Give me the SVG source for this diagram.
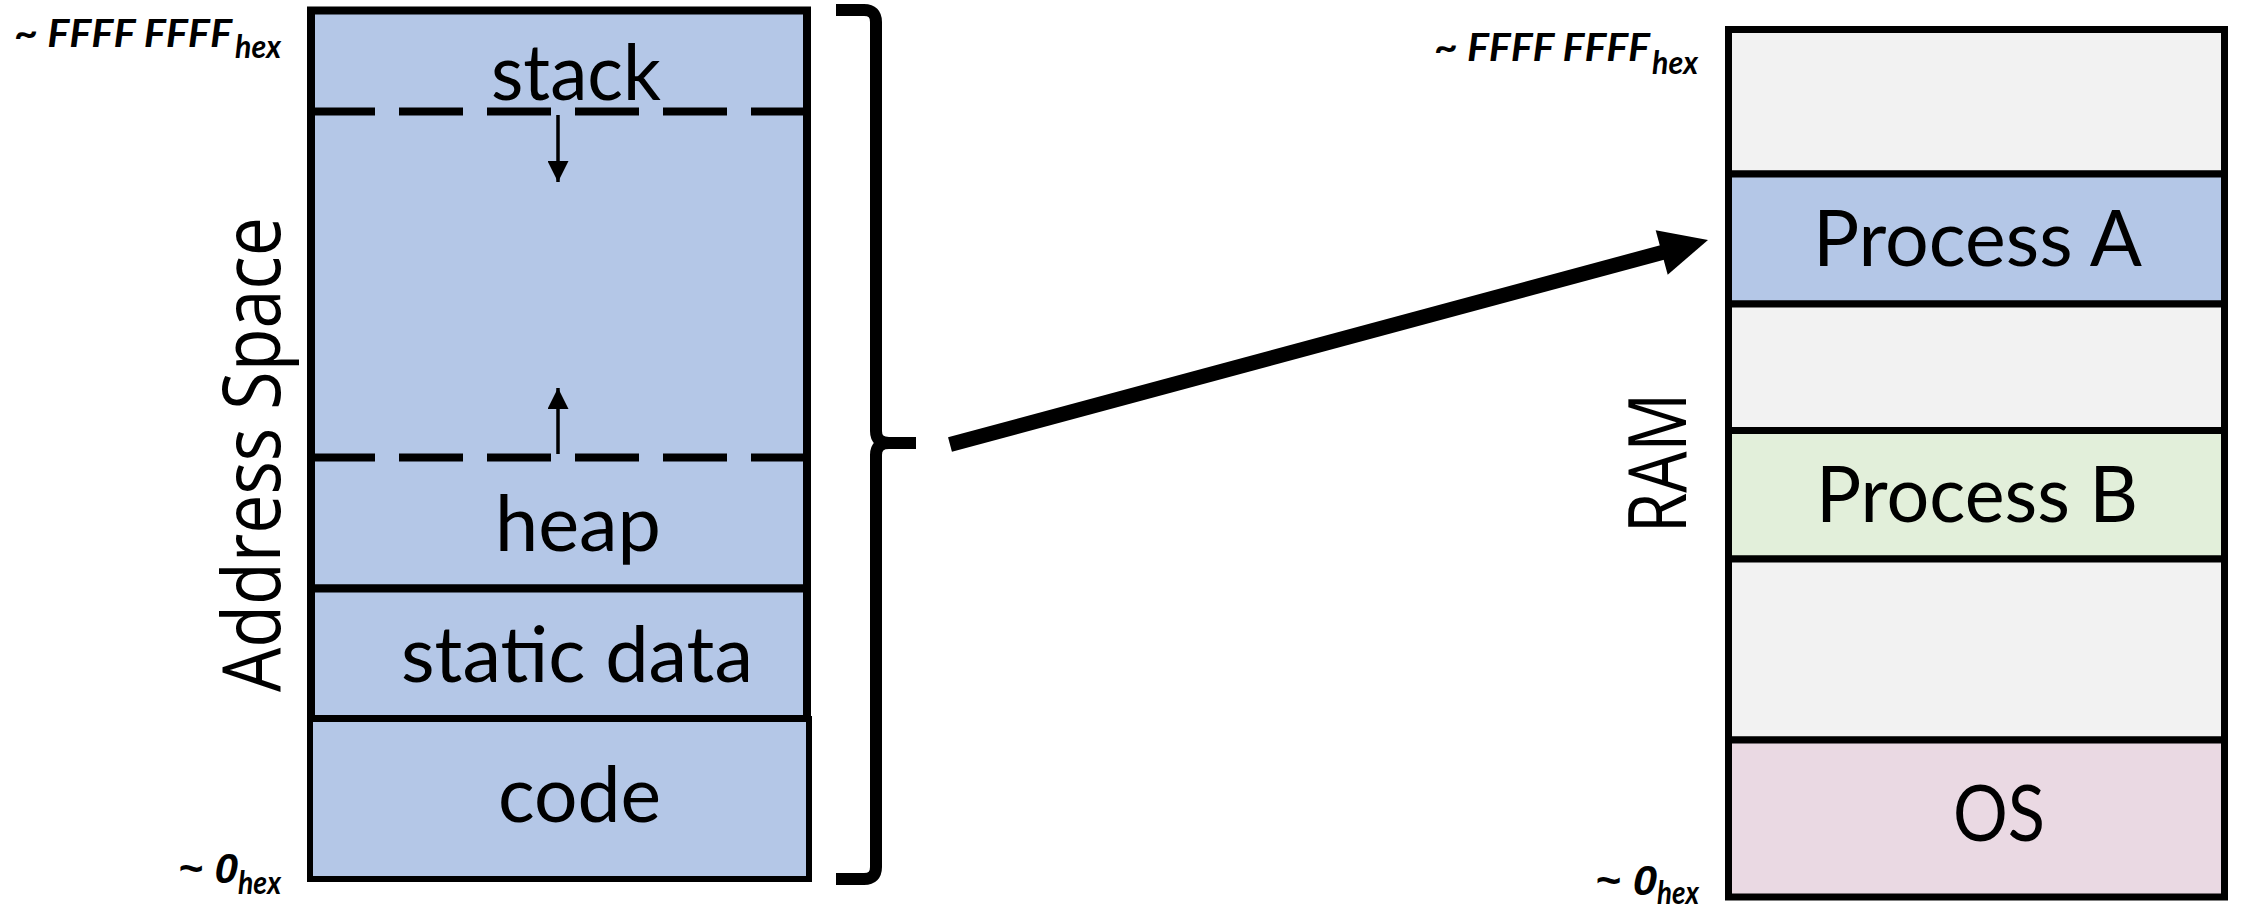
<svg xmlns="http://www.w3.org/2000/svg" width="2242" height="911" viewBox="0 0 2242 911">
  <style>
    .seg { stroke: #000; stroke-width: 8; }
    .ram { stroke: #000; stroke-width: 7; }
    .blue { fill: #B4C7E7; }
    .free { fill: #F2F2F2; }
    .green { fill: #E2EFDA; }
    .pink { fill: #EAD9E3; }
    .lbl { font-family: Lato, "Open Sans", sans-serif; font-size: 78px; fill: #000; }
    .side { font-family: "Open Sans", "DejaVu Sans", sans-serif; font-size: 80px; fill: #000; }
    .addr { font-family: Lato, "Liberation Sans", sans-serif; font-weight: bold; font-style: italic; fill: #000; }
    .zero { font-family: "Liberation Sans", Arial, sans-serif; font-size: 42px; }
    .big { font-size: 38px; }
    .sub { font-size: 32px; }
    .dash { stroke: #000; stroke-width: 8; stroke-dasharray: 64 24; fill: none; }
    .thin { stroke: #000; stroke-width: 3.5; fill: none; }
  </style>
  <defs>
    <marker id="tri" viewBox="0 0 10 10" refX="10" refY="5" markerWidth="6" markerHeight="6" markerUnits="strokeWidth" orient="auto">
      <path d="M0,0 L10,5 L0,10 z" fill="#000"/>
    </marker>
  </defs>

  <rect width="2242" height="911" fill="#fff"/>

  <!-- process address space -->
  <g id="address-space">
    <g id="seg-stack-heap">
      <rect class="seg blue" x="311" y="10.5" width="496" height="578"/>
      <line class="dash" x1="311" y1="111.5" x2="807" y2="111.5"/>
      <line class="dash" x1="311" y1="457.5" x2="807" y2="457.5"/>
      <text class="lbl" x="491" y="100" textLength="170" lengthAdjust="spacingAndGlyphs">stack</text>
      <text class="lbl" x="495" y="551" textLength="166" lengthAdjust="spacingAndGlyphs">heap</text>
      <line class="thin" x1="558" y1="115" x2="558" y2="182" marker-end="url(#tri)"/>
      <line class="thin" x1="558" y1="454" x2="558" y2="388" marker-end="url(#tri)"/>
    </g>
    <g id="seg-static">
      <rect class="seg blue" x="311" y="588.5" width="496" height="130.5"/>
      <text class="lbl" x="401" y="682" textLength="352" lengthAdjust="spacingAndGlyphs">static data</text>
    </g>
    <g id="seg-code">
      <rect class="blue" x="310" y="719" width="499" height="160" stroke="#000" stroke-width="6"/>
      <text class="lbl" x="498" y="822" textLength="163" lengthAdjust="spacingAndGlyphs">code</text>
    </g>
    <text class="side" transform="translate(280,692) rotate(-90)" textLength="475" lengthAdjust="spacingAndGlyphs">Address Space</text>
    <g id="addr-left">
      <text class="addr big" x="14" y="47" textLength="218" lengthAdjust="spacingAndGlyphs">~ FFFF FFFF</text>
      <text class="addr sub" x="235" y="58" textLength="46" lengthAdjust="spacingAndGlyphs">hex</text>
      <text class="addr zero" x="178" y="883" textLength="60" lengthAdjust="spacingAndGlyphs">~ 0</text>
      <text class="addr sub" x="238" y="894" textLength="43" lengthAdjust="spacingAndGlyphs">hex</text>
    </g>
  </g>

  <!-- physical memory -->
  <g id="ram">
    <rect id="ram-free-top" class="ram free" x="1728.5" y="29.5" width="496" height="144.5"/>
    <g id="ram-process-a">
      <rect class="ram blue" x="1728.5" y="174" width="496" height="130"/>
      <text class="lbl" x="1813" y="266" textLength="329" lengthAdjust="spacingAndGlyphs">Process A</text>
    </g>
    <rect id="ram-free-mid" class="ram free" x="1728.5" y="304" width="496" height="126.5"/>
    <g id="ram-process-b">
      <rect class="ram green" x="1728.5" y="430.5" width="496" height="128.5"/>
      <text class="lbl" x="1816" y="522" textLength="322" lengthAdjust="spacingAndGlyphs">Process B</text>
    </g>
    <rect id="ram-free-low" class="ram free" x="1728.5" y="559" width="496" height="181"/>
    <g id="ram-os">
      <rect class="ram pink" x="1728.5" y="740" width="496" height="157"/>
      <text class="lbl" x="1953" y="841" textLength="92" lengthAdjust="spacingAndGlyphs">OS</text>
    </g>
    <text class="side" transform="translate(1686,533) rotate(-90)" textLength="140" lengthAdjust="spacingAndGlyphs">RAM</text>
    <g id="addr-right">
      <text class="addr big" x="1434" y="61" textLength="216" lengthAdjust="spacingAndGlyphs">~ FFFF FFFF</text>
      <text class="addr sub" x="1652" y="74" textLength="46" lengthAdjust="spacingAndGlyphs">hex</text>
      <text class="addr zero" x="1595" y="895" textLength="62" lengthAdjust="spacingAndGlyphs">~ 0</text>
      <text class="addr sub" x="1657" y="904" textLength="42" lengthAdjust="spacingAndGlyphs">hex</text>
    </g>
  </g>

  <!-- connectors: brace around the address space and the mapping arrow -->
  <g id="connectors">
    <path d="M836 10 H864 Q876 10 876 22 V431 Q876 443 889 443 H916 M889 443 Q876 443 876 455 V867 Q876 879 864 879 H836" fill="none" stroke="#000" stroke-width="12"/>
    <line x1="950" y1="444.5" x2="1664" y2="252" stroke="#000" stroke-width="15"/>
    <polygon points="1708,240 1655.7,230.3 1667.7,274.7" fill="#000"/>
  </g>
</svg>
